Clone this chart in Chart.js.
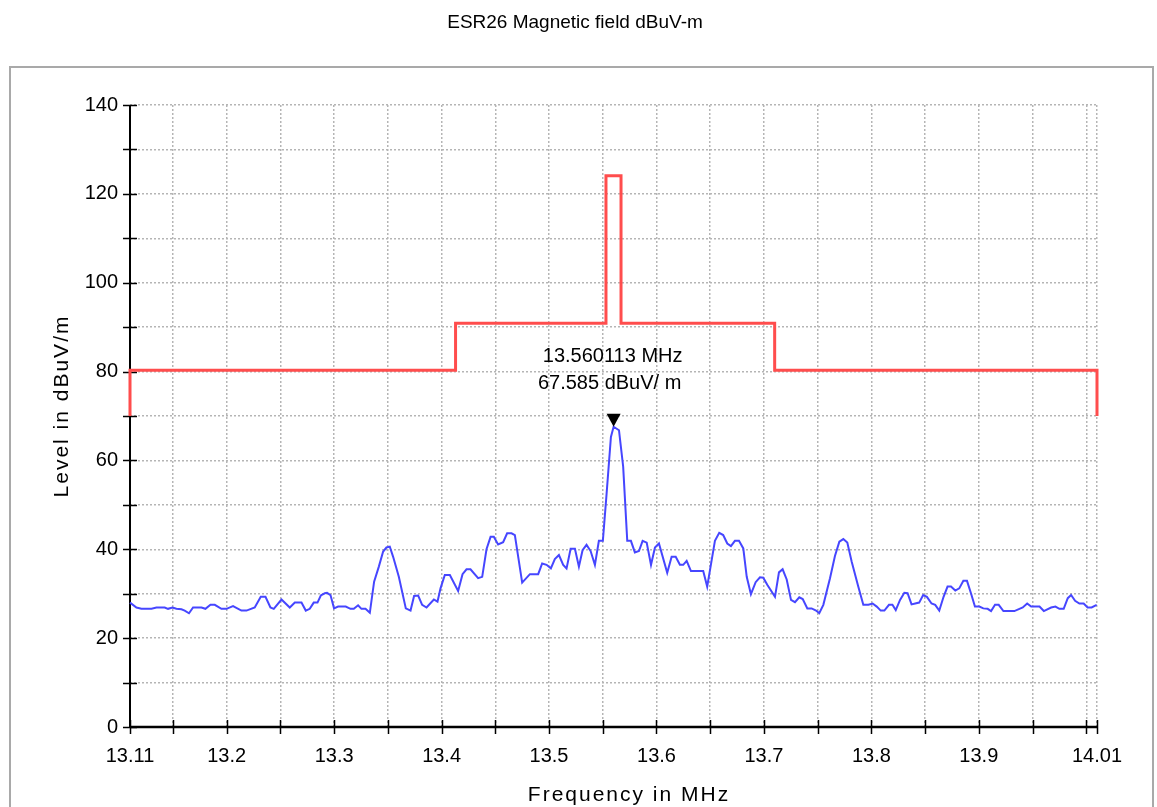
<!DOCTYPE html>
<html>
<head>
<meta charset="utf-8">
<script src="https://cdn.jsdelivr.net/npm/chart.js@4.4.0/dist/chart.umd.min.js"></script>
<style>
  html, body { margin: 0; padding: 0; background: #ffffff; }
  #wrap { position: relative; width: 1157px; height: 807px; }
</style>
</head>
<body>
<div id="wrap"><canvas id="c"></canvas></div>
<script>
// ---- Data ----
const chartTitle = "ESR26 Magnetic field dBuV-m";
const xAxisTitle = "Frequency in MHz";
const yAxisTitle = "Level in dBuV/m";

// Measured trace (blue): frequency in MHz and level in dBuV/m
const traceFreq = [
  13.1100,13.1160,13.1206,13.1300,13.1346,13.1423,13.1454,13.1495,13.1532,13.1579,
  13.1609,13.1649,13.1687,13.1765,13.1802,13.1849,13.1889,13.1951,13.1998,13.2059,
  13.2137,13.2184,13.2261,13.2317,13.2361,13.2407,13.2438,13.2510,13.2587,13.2634,
  13.2696,13.2736,13.2773,13.2810,13.2845,13.2876,13.2913,13.2934,13.2966,13.2999,
  13.3037,13.3108,13.3152,13.3183,13.3223,13.3254,13.3292,13.3332,13.3372,13.3416,
  13.3456,13.3487,13.3518,13.3549,13.3602,13.3667,13.3711,13.3744,13.3782,13.3819,
  13.3860,13.3928,13.3962,13.3990,13.4030,13.4077,13.4154,13.4195,13.4232,13.4269,
  13.4340,13.4378,13.4418,13.4456,13.4486,13.4526,13.4573,13.4610,13.4651,13.4682,
  13.4750,13.4822,13.4899,13.4936,13.4977,13.5017,13.5054,13.5092,13.5132,13.5163,
  13.5201,13.5241,13.5278,13.5312,13.5349,13.5387,13.5427,13.5464,13.5501,13.5536,
  13.5576,13.5601,13.5651,13.5690,13.5728,13.5762,13.5799,13.5837,13.5871,13.5909,
  13.5949,13.5986,13.6023,13.6100,13.6141,13.6179,13.6218,13.6249,13.6281,13.6321,
  13.6435,13.6472,13.6544,13.6584,13.6621,13.6659,13.6693,13.6730,13.6768,13.6808,
  13.6840,13.6879,13.6923,13.6963,13.6994,13.7031,13.7103,13.7140,13.7174,13.7212,
  13.7252,13.7289,13.7329,13.7361,13.7404,13.7444,13.7485,13.7515,13.7553,13.7615,
  13.7661,13.7702,13.7739,13.7776,13.7817,13.7878,13.7925,13.7972,13.8012,13.8050,
  13.8087,13.8121,13.8164,13.8196,13.8227,13.8267,13.8307,13.8337,13.8374,13.8408,
  13.8445,13.8482,13.8517,13.8560,13.8594,13.8632,13.8672,13.8709,13.8741,13.8781,
  13.8818,13.8856,13.8890,13.8927,13.8964,13.9005,13.9042,13.9082,13.9114,13.9151,
  13.9185,13.9229,13.9331,13.9378,13.9409,13.9450,13.9487,13.9565,13.9605,13.9673,
  13.9713,13.9750,13.9790,13.9828,13.9859,13.9896,13.9936,13.9976,14.0013,14.0050,
  14.0097
];
const traceLevel = [
  28.0,26.9,26.6,26.6,26.9,26.9,26.6,26.9,26.6,26.5,
  26.2,25.6,26.9,26.9,26.6,27.5,27.5,26.6,26.6,27.2,
  26.2,26.2,26.9,29.3,29.3,26.9,26.6,28.7,26.9,28.0,
  28.0,26.2,26.6,28.0,28.0,29.6,30.1,30.2,29.7,26.7,
  27.1,27.1,26.6,26.6,27.4,26.6,26.6,25.7,32.7,36.1,
  39.5,40.4,40.6,38.3,33.8,26.7,26.2,29.5,29.6,27.5,
  26.9,28.7,28.2,31.2,34.2,34.2,30.6,34.4,35.5,35.5,
  33.5,33.8,40.0,42.8,42.8,41.1,41.6,43.6,43.6,43.2,
  32.5,34.4,34.4,36.8,36.5,35.7,37.8,38.7,36.5,35.7,
  40.1,40.1,36.1,39.8,41.0,39.6,36.5,41.9,41.9,52.6,
  65.3,67.585,66.8,58.6,41.9,41.9,39.3,39.6,41.9,41.5,
  36.5,40.4,41.3,34.7,38.3,38.3,36.5,36.5,37.4,35.1,
  35.1,31.6,41.9,43.7,43.2,41.3,40.7,41.9,41.9,40.2,
  33.8,29.9,32.6,33.7,33.6,32.0,29.3,34.8,35.5,33.2,
  28.6,28.1,29.2,28.8,26.7,26.7,26.2,25.6,27.5,33.5,
  38.5,41.7,42.3,41.5,37.2,31.6,27.5,27.5,27.8,27.1,
  26.2,26.2,27.5,27.5,26.3,28.6,30.2,30.1,27.6,27.8,
  28.0,29.7,29.3,27.8,27.5,26.2,29.3,31.6,31.6,30.7,
  31.2,32.9,32.9,30.1,27.1,27.1,26.7,26.6,26.1,27.5,
  27.5,26.1,26.1,26.6,26.9,27.8,27.1,27.1,26.1,26.9,
  27.1,26.6,26.6,29.0,29.7,28.4,27.8,27.8,26.9,26.9,
  27.5
];

// Limit line (red), stepped
const limitFreq  = [13.11, 13.11, 13.413, 13.413, 13.553, 13.553, 13.567, 13.567, 13.71, 13.71, 14.01, 14.01];
const limitLevel = [70.0,  80.3,  80.3,   90.9,   90.9,   124.1,  124.1,  90.9,   90.9,  80.3,  80.3,  70.0];

// Marker
const markerFreq = 13.560113;
const markerLevel = 67.585;
const markerLabels = ["13.560113 MHz", "67.585 dBuV/ m"];

// Axes
const xMin = 13.11, xMax = 14.01;
const yMin = 0, yMax = 140;
const xTickValues = [13.11,13.15,13.2,13.25,13.3,13.35,13.4,13.45,13.5,13.55,13.6,13.65,13.7,13.75,13.8,13.85,13.9,13.95,14.0,14.01];
const xTickLabels = ["13.11","","13.2","","13.3","","13.4","","13.5","","13.6","","13.7","","13.8","","13.9","","","14.01"];
const yTickValues = [0,10,20,30,40,50,60,70,80,90,100,110,120,130,140];
const yTickLabels = ["0","","20","","40","","60","","80","","100","","120","","140"];

// ---- Chart ----
const FONT = "'Liberation Sans', Arial, sans-serif";

const decor = {
  id: 'decor',
  beforeDraw(chart) {
    const ctx = chart.ctx;
    ctx.save();
    ctx.fillStyle = '#ffffff';
    ctx.fillRect(0, 0, chart.width, chart.height);
    // frame
    ctx.strokeStyle = '#a9a9a9';
    ctx.lineWidth = 2;
    ctx.strokeRect(10, 67, 1143, 760);
    // title
    ctx.fillStyle = '#000';
    ctx.font = "19px " + FONT;
    ctx.textAlign = 'center';
    ctx.textBaseline = 'middle';
    ctx.fillText(chartTitle, 575, 23);
    ctx.restore();
  },
  beforeDatasetsDraw(chart) {
    const ctx = chart.ctx;
    const a = chart.chartArea;
    const xs = chart.scales.x, ys = chart.scales.y;
    ctx.save();
    ctx.strokeStyle = '#000';
    // y axis
    ctx.lineWidth = 2;
    ctx.beginPath();
    ctx.moveTo(a.left, a.top);
    ctx.lineTo(a.left, a.bottom);
    ctx.stroke();
    // x axis
    ctx.lineWidth = 2.5;
    ctx.beginPath();
    ctx.moveTo(a.left, a.bottom);
    ctx.lineTo(a.right + 1, a.bottom);
    ctx.stroke();
    // ticks
    ctx.lineWidth = 1.5;
    ctx.beginPath();
    yTickValues.forEach(v => {
      const y = Math.round(ys.getPixelForValue(v)) + 0.5;
      ctx.moveTo(a.left - 7, y);
      ctx.lineTo(a.left + 7, y);
    });
    xTickValues.forEach(v => {
      const x = Math.round(xs.getPixelForValue(v)) + 0.5;
      ctx.moveTo(x, a.bottom - 7);
      ctx.lineTo(x, a.bottom + 7);
    });
    ctx.stroke();
    ctx.restore();
  },
  afterDatasetsDraw(chart) {
    const ctx = chart.ctx;
    const xs = chart.scales.x, ys = chart.scales.y;
    const mx = xs.getPixelForValue(markerFreq);
    const my = ys.getPixelForValue(markerLevel);
    ctx.save();
    ctx.fillStyle = '#000';
    ctx.beginPath();
    ctx.moveTo(mx, my);
    ctx.lineTo(mx - 7, my - 13);
    ctx.lineTo(mx + 7, my - 13);
    ctx.closePath();
    ctx.fill();
    ctx.font = "20px " + FONT;
    ctx.textAlign = 'center';
    ctx.textBaseline = 'middle';
    ctx.fillText(markerLabels[0], mx - 1, my - 70);
    ctx.fillText(markerLabels[1], mx - 4, my - 43);
    // axis titles
    ctx.font = "21px " + FONT;
    if ('letterSpacing' in ctx) ctx.letterSpacing = '2px';
    ctx.fillText(xAxisTitle, 629, 795);
    ctx.translate(62, 406);
    ctx.rotate(-Math.PI / 2);
    ctx.fillText(yAxisTitle, 0, 0);
    ctx.restore();
  }
};

const ctx = document.getElementById('c');
new Chart(ctx, {
  type: 'scatter',
  data: {
    datasets: [
      {
        label: 'Level',
        data: traceFreq.map((f, i) => ({ x: f, y: traceLevel[i] })),
        showLine: true,
        borderColor: '#4646ff',
        borderWidth: 2,
        pointRadius: 0,
        tension: 0,
        clip: 4,
        order: 2
      },
      {
        label: 'Limit',
        data: limitFreq.map((f, i) => ({ x: f, y: limitLevel[i] })),
        showLine: true,
        borderColor: '#ff4d4d',
        borderWidth: 3,
        pointRadius: 0,
        tension: 0,
        clip: 4,
        order: 1
      }
    ]
  },
  options: {
    responsive: true,
    maintainAspectRatio: false,
    animation: false,
    devicePixelRatio: 1,
    events: [],
    layout: { padding: { left: 0, right: 60, top: 105, bottom: 0 } },
    plugins: {
      legend: { display: false },
      tooltip: { enabled: false },
      title: { display: false }
    },
    scales: {
      x: {
        type: 'linear',
        min: xMin, max: xMax,
        afterBuildTicks: (s) => { s.ticks = xTickValues.map(v => ({ value: v })); },
        afterFit: (s) => { s.height = 80; },
        grid: { color: '#b5b5b5', lineWidth: 1.5, drawTicks: false },
        border: { display: false, dash: [2, 2] },
        ticks: {
          autoSkip: false, maxRotation: 0, minRotation: 0,
          padding: 17,
          color: '#000',
          font: { size: 20, family: FONT },
          callback: (v, i) => xTickLabels[i]
        }
      },
      y: {
        min: yMin, max: yMax,
        afterBuildTicks: (s) => { s.ticks = yTickValues.map(v => ({ value: v })); },
        afterFit: (s) => { s.width = 130; },
        grid: { color: '#b5b5b5', lineWidth: 1.5, drawTicks: false },
        border: { display: false, dash: [2, 2] },
        ticks: {
          autoSkip: false,
          padding: 12,
          color: '#000',
          font: { size: 20, family: FONT },
          callback: (v, i) => yTickLabels[i]
        }
      }
    }
  },
  plugins: [decor]
});
</script>
</body>
</html>
